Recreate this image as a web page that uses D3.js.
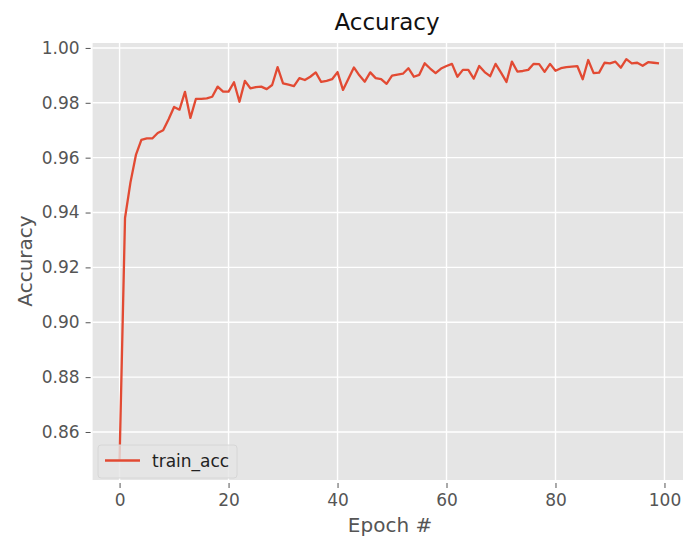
<!DOCTYPE html>
<html>
<head>
<meta charset="utf-8">
<script src="https://cdn.jsdelivr.net/npm/d3@7/dist/d3.min.js"></script>
<style>
  html, body { margin: 0; padding: 0; background: #fff; }
  svg { display: block; font-family: "DejaVu Sans", sans-serif; }
</style>
</head>
<body>
<svg id="chart" width="683" height="545"></svg>
<script>
// Training accuracy per epoch
const epochs = d3.range(0, 100);
const trainAcc = [
  0.850, 0.938, 0.951, 0.961, 0.9665, 0.967, 0.967, 0.969, 0.970, 0.974,
  0.9785, 0.9775, 0.984, 0.9745, 0.9814, 0.9814, 0.9816, 0.9822, 0.9859, 0.9841,
  0.9841, 0.9875, 0.9804, 0.9880, 0.9853, 0.9857, 0.9859, 0.9850, 0.9865, 0.9930,
  0.9871, 0.9866, 0.9861, 0.9890, 0.9883, 0.9895, 0.9911, 0.9876, 0.9880, 0.9886,
  0.9912, 0.9847, 0.9888, 0.9929, 0.9900, 0.9877, 0.9911, 0.9890, 0.9886, 0.9869,
  0.9899, 0.9903, 0.9906, 0.9926, 0.9895, 0.9902, 0.9944, 0.9925, 0.9908, 0.9925,
  0.9934, 0.9942, 0.9895, 0.9920, 0.9920, 0.9888, 0.9934, 0.9912, 0.9897, 0.9942,
  0.9910, 0.9876, 0.9950, 0.9914, 0.9916, 0.9920, 0.9942, 0.9941, 0.9913, 0.9942,
  0.9917, 0.9926, 0.9930, 0.9932, 0.9934, 0.9886, 0.9956, 0.9908, 0.9910, 0.9946,
  0.9944, 0.9950, 0.9928, 0.9959, 0.9944, 0.9946, 0.9935, 0.9948, 0.9946, 0.9944
];
const xTicks = [0, 20, 40, 60, 80, 100];
const yTicks = [0.86, 0.88, 0.90, 0.92, 0.94, 0.96, 0.98, 1.00];
const titleText = "Accuracy";
const xLabel = "Epoch #";
const yLabel = "Accuracy";
const seriesName = "train_acc";

const svg = d3.select("#chart");
const plot = { left: 92.6, right: 686, top: 43, bottom: 480 };

// 5% padding around the data range on both axes
const xPad = (d3.max(epochs) - d3.min(epochs)) * 0.05;
const x = d3.scaleLinear()
  .domain([d3.min(epochs) - xPad, d3.max(epochs) + xPad])
  .range([plot.left, plot.right]);
const y = d3.scaleLinear()
  .domain([0.8425, 1.0018])
  .range([plot.bottom, plot.top]);

// panel background
svg.append("rect")
  .attr("x", plot.left).attr("y", plot.top)
  .attr("width", plot.right - plot.left).attr("height", plot.bottom - plot.top)
  .attr("fill", "#e5e5e5");

// grid
const grid = svg.append("g").attr("stroke", "#ffffff").attr("stroke-width", 1.4);
grid.selectAll("line.gx").data(xTicks).join("line")
  .attr("x1", d => x(d)).attr("x2", d => x(d))
  .attr("y1", plot.top).attr("y2", plot.bottom);
grid.selectAll("line.gy").data(yTicks).join("line")
  .attr("x1", plot.left).attr("x2", plot.right)
  .attr("y1", d => y(d)).attr("y2", d => y(d));

// axes
const xAxis = d3.axisBottom(x).tickValues(xTicks).tickFormat(d3.format("d"))
  .tickSize(5).tickPadding(6);
const yAxis = d3.axisLeft(y).tickValues(yTicks).tickFormat(d3.format(".2f"))
  .tickSize(5).tickPadding(6);

const gx = svg.append("g").attr("transform", `translate(0,${plot.bottom + 3})`).call(xAxis);
const gy = svg.append("g").attr("transform", `translate(${plot.left - 2},0)`).call(yAxis);
[gx, gy].forEach(g => {
  g.select(".domain").remove();
  g.selectAll(".tick line").attr("stroke", "#555555").attr("stroke-width", 1);
  g.selectAll(".tick text").attr("fill", "#555555")
    .style("font-size", "17px").style("font-family", "DejaVu Sans, sans-serif");
});

// series line
const line = d3.line()
  .x((d, i) => x(epochs[i]))
  .y(d => y(d));
svg.append("path")
  .datum(trainAcc)
  .attr("fill", "none")
  .attr("stroke", "#E24A33")
  .attr("stroke-width", 2.3)
  .attr("stroke-linejoin", "round")
  .attr("d", line);

// title and axis labels
svg.append("text")
  .attr("x", 387).attr("y", 30)
  .attr("text-anchor", "middle")
  .attr("fill", "#111")
  .style("font-size", "23px")
  .text(titleText);

svg.append("text")
  .attr("x", 390).attr("y", 532)
  .attr("text-anchor", "middle")
  .attr("fill", "#555555")
  .style("font-size", "20px")
  .text(xLabel);

svg.append("text")
  .attr("transform", "translate(32,261) rotate(-90)")
  .attr("text-anchor", "middle")
  .attr("fill", "#555555")
  .style("font-size", "20px")
  .text(yLabel);

// legend
const lg = svg.append("g").attr("transform", "translate(98,445)");
lg.append("rect")
  .attr("width", 139).attr("height", 33).attr("rx", 3)
  .attr("fill", "#e5e5e5").attr("fill-opacity", 0.8)
  .attr("stroke", "#d6d6d6").attr("stroke-width", 1);
lg.append("line")
  .attr("x1", 7).attr("x2", 42).attr("y1", 15.5).attr("y2", 15.5)
  .attr("stroke", "#E24A33").attr("stroke-width", 2.3);
lg.append("text")
  .attr("x", 54).attr("y", 22)
  .attr("fill", "#222")
  .style("font-size", "17px")
  .text(seriesName);
</script>
</body>
</html>
